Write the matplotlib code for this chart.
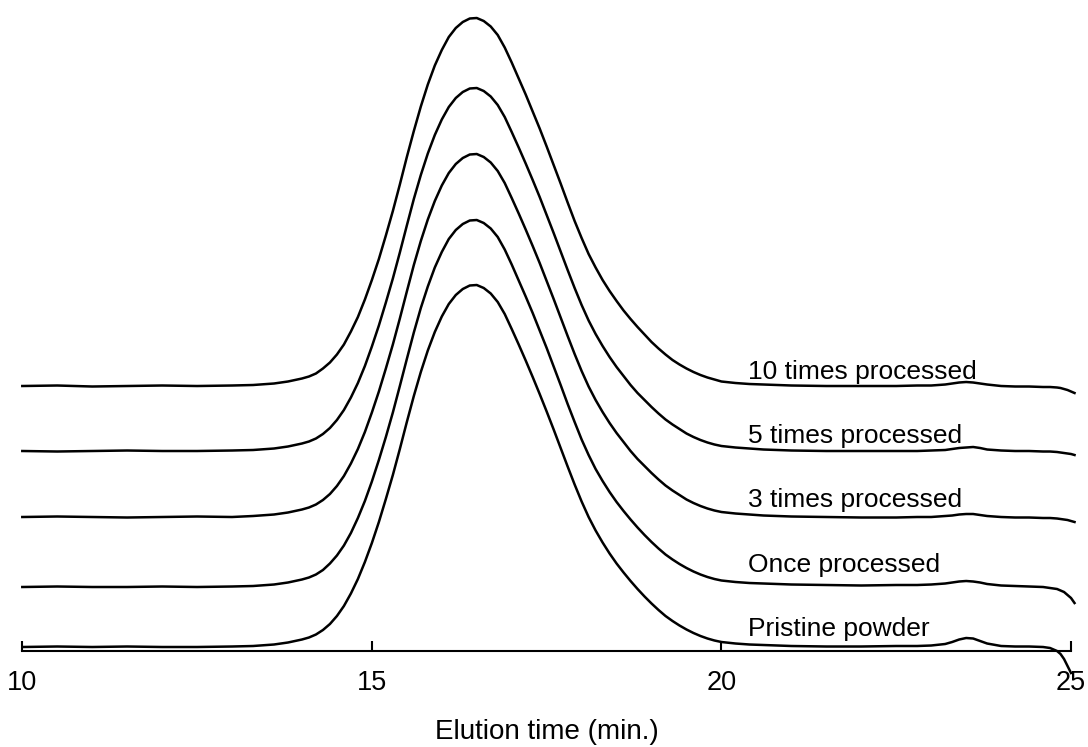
import numpy as np
import matplotlib
matplotlib.use('Agg')
import matplotlib.pyplot as plt

plt.rcParams['font.family'] = ['Liberation Sans', 'DejaVu Sans']

# elution time grid (min.)
time = [10.0, 10.5, 11.0, 11.5, 12.0, 12.5, 13.0, 13.3, 13.6, 13.8,
        14.0, 14.1, 14.2, 14.3, 14.4, 14.5, 14.6, 14.7, 14.8, 14.9,
        15.0, 15.1, 15.2, 15.3, 15.4, 15.5, 15.6, 15.7, 15.8, 15.9,
        16.0, 16.1, 16.2, 16.3, 16.4, 16.5, 16.6, 16.7, 16.8, 16.9,
        17.0, 17.1, 17.2, 17.3, 17.4, 17.5, 17.6, 17.7, 17.8, 17.9,
        18.0, 18.1, 18.2, 18.3, 18.4, 18.5, 18.6, 18.7, 18.8, 18.9,
        19.0, 19.1, 19.2, 19.3, 19.4, 19.5, 19.6, 19.7, 19.8, 19.9,
        20.0, 20.2, 20.4, 20.6, 20.8, 21.0, 21.5, 22.0, 22.5, 22.8,
        23.0, 23.2, 23.3, 23.4, 23.5, 23.6, 23.7, 23.8, 24.0, 24.2,
        24.4, 24.6, 24.7, 24.8, 24.85, 24.9, 24.95, 25.0, 25.05]

# detector signal (arb. units)
pristine = [0, 0.5, 0, 0.5, 0, 0, 0.5, 1, 2.5, 4.5,
            7.5, 9.5, 12.5, 17, 23, 31, 41, 53.5, 68, 85,
            104, 125, 148, 172, 198, 225, 251, 275, 296.5, 315,
            330.5, 343, 352, 358, 361.5, 362, 359, 353.5, 345, 333,
            318, 302.5, 286.5, 270, 253, 235.5, 217.5, 199, 180.5, 162.5,
            145.5, 130, 116.5, 104.5, 93.5, 83.5, 74.5, 66, 58, 50.5,
            43.5, 37, 31, 26, 21.5, 17.5, 14, 11, 8.5, 6.5,
            5, 3.5, 2.5, 2, 1.5, 1, 0.5, 0.5, 1, 1,
            1.5, 3, 5, 7.5, 9, 8.5, 6, 3.5, 1, 0.5,
            0.5, 0, -1, -4, -7, -12, -19, -26, np.nan]

once = [0, 0.5, 0, 0, 0.5, 0, 0.5, 1, 2.5, 4.5,
        7.5, 9.5, 12.5, 17, 23.5, 31.5, 41.5, 54, 69, 86,
        105.5, 127, 150, 174.5, 201, 228, 254.5, 279, 300.5, 319.5,
        335, 348, 357, 363, 366.5, 367, 364, 358.5, 350, 337.5,
        322.5, 306.5, 290.5, 274, 256.5, 239, 220.5, 202, 183, 165,
        147.5, 132, 118, 106, 95, 85, 76, 67.5, 59.5, 52,
        45, 38.5, 32.5, 27.5, 23, 19, 15.5, 12.5, 10, 8,
        6.5, 5, 4, 3.5, 3, 2.5, 2, 1.5, 2, 2,
        2.5, 3.5, 4.5, 5.5, 6, 5.5, 4.5, 3, 1.5, 1,
        0.5, 0, -1, -2, -3.5, -5, -8, -11, -16]

times3 = [0, 0.5, 0, -0.5, 0, 0.5, 0, 1, 2.5, 4.5,
          7.5, 9.5, 12.5, 17, 23, 31, 41, 53.5, 68, 85,
          104.5, 125.5, 148.5, 172.5, 198.5, 225.5, 252, 276, 297.5, 316,
          331.5, 344, 353, 359, 362.5, 363, 360, 354.5, 346, 334,
          319, 303.5, 287.5, 271, 254, 236, 218, 199.5, 181, 163,
          146, 130.5, 117, 105, 94, 84, 75, 66, 58, 51,
          44, 37.5, 31.5, 26.5, 22, 17.5, 14, 11, 8.5, 6.5,
          5, 3.5, 2.5, 1.5, 1, 0.5, 0, -0.5, -0.5, 0,
          0, 1, 1.5, 2.5, 3, 3, 2, 1, 0, -0.5,
          -0.5, -1, -1, -1.5, -2, -2.5, -3, -4, -5]

times5 = [0, -0.5, 0, 0.5, 0, 0, 0.5, 1, 2.5, 4.5,
          7.5, 9.5, 12.5, 17, 23, 31, 41, 53.5, 68, 85,
          104.5, 125.5, 148.5, 172.5, 198.5, 225.5, 252, 276, 297.5, 316,
          331.5, 344, 353, 359, 362.5, 363, 360, 354.5, 346, 334,
          319, 303.5, 287.5, 271, 254, 236, 218, 199.5, 181, 163,
          146, 130.5, 117, 105, 94, 84, 75, 66, 58, 51,
          44, 37.5, 31.5, 26.5, 22, 17.5, 14, 11, 8.5, 6.5,
          5, 3.5, 2.5, 1.5, 1, 0.5, 0, 0, 0, 0,
          0.5, 1, 2, 3, 3.5, 4, 3, 1.5, 0.5, 0,
          0, -0.5, -0.5, -1, -1.5, -2, -2.5, -3, -4]

times10 = [0, 0.5, -0.5, 0, 0.5, 0, 0.5, 1, 2.5, 4.5,
           7.5, 9.5, 12.5, 17.5, 23.5, 31.5, 41.5, 54.5, 69, 86.5,
           106, 127, 150.5, 175, 201.5, 229, 255, 279.5, 301.5, 320.5,
           336, 349, 358, 364, 367.5, 368, 365, 359.5, 351, 338.5,
           323.5, 307.5, 291.5, 274.5, 257.5, 239.5, 221, 202.5, 183.5, 165,
           148, 132, 118.5, 106, 95, 85, 75.5, 67, 59, 51.5,
           44, 37.5, 31.5, 26, 21.5, 17.5, 14, 11, 8.5, 6.5,
           4.5, 3, 2, 1.5, 1, 0.5, 0, 0, 0, 0.5,
           0.5, 1.5, 2.5, 3.5, 4, 3.5, 2.5, 1.5, 0, -0.5,
           -0.5, -1, -1, -1.5, -2, -3, -4, -5.5, -7]

labels = ['Pristine powder', 'Once processed', '3 times processed',
          '5 times processed', '10 times processed']
series = [pristine, once, times3, times5, times10]
offsets = [0, 60, 130, 196, 261]
label_y = [11, 75, 140, 204, 268]

fig = plt.figure(figsize=(10.88, 7.47), dpi=100)
ax = fig.add_axes([0.0205, 0.0763, 0.9639, 0.9103])

for sig, off, lab, ly in zip(series, offsets, labels, label_y):
    y = np.array(sig, dtype=float) + off
    ax.plot(time, y, color='black', lw=1.8, clip_on=False)
    ax.text(20.38, ly, lab, fontsize=19, ha='left', va='baseline')

ax.set_xlim(10, 25)
ax.set_ylim(-43, 637)
for s in ['top', 'left', 'right']:
    ax.spines[s].set_visible(False)
ax.spines['bottom'].set_position(('data', -4))
ax.spines['bottom'].set_linewidth(1.5)
ax.set_yticks([])
ax.set_xticks([10, 15, 20, 25])
ax.tick_params(axis='x', direction='in', length=7, width=1.5,
               labelsize=19.5, pad=14)
ax.set_xlabel('Elution time (min.)', fontsize=20, labelpad=16)

plt.savefig('out.png', dpi=100)
